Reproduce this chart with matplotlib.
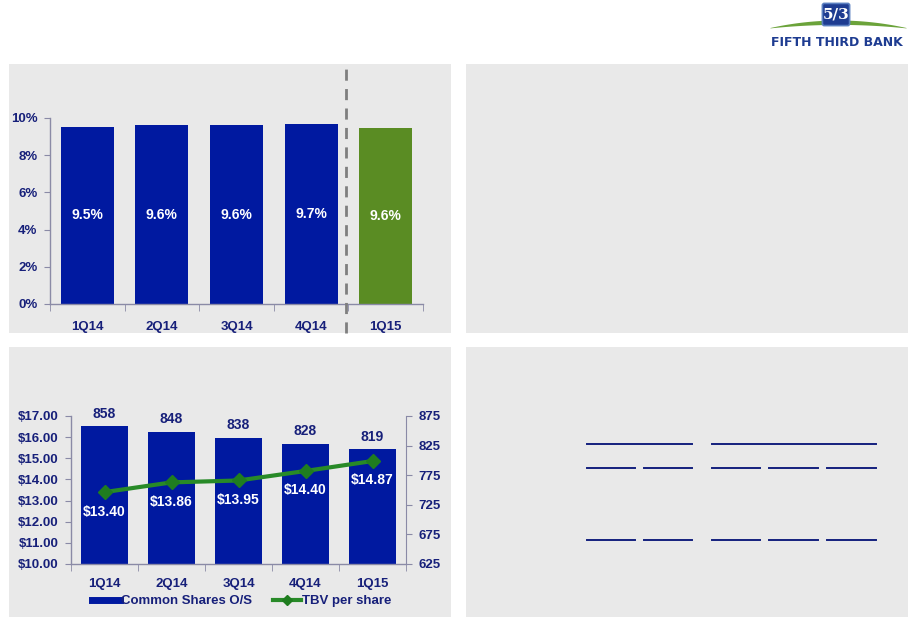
import matplotlib
matplotlib.use("Agg")
import matplotlib.pyplot as plt
from matplotlib.patches import Rectangle, FancyBboxPatch
from matplotlib.lines import Line2D
import numpy as np

plt.rcParams['font.family'] = ['Liberation Sans', 'DejaVu Sans']

# ---------------- data ----------------
top_categories = ["1Q14", "2Q14", "3Q14", "4Q14", "1Q15"]
top_values = [9.52, 9.62, 9.62, 9.68, 9.47]
top_labels = ["9.5%", "9.6%", "9.6%", "9.7%", "9.6%"]
top_yticks = [0, 2, 4, 6, 8, 10]

bot_categories = ["1Q14", "2Q14", "3Q14", "4Q14", "1Q15"]
shares_os = [858, 848, 838, 828, 819]
tbv_per_share = [13.40, 13.86, 13.95, 14.40, 14.87]
left_ticks = [10, 11, 12, 13, 14, 15, 16, 17]
right_ticks = [625, 675, 725, 775, 825, 875]

# ---------------- style ----------------
W, H = 916, 621
NAVY = '#17207A'
BLUE = '#0019A0'
GREEN_BAR = '#5A8C23'
GREEN_LINE = '#288A28'
PANEL = '#E9E9E9'
SPINE = '#8A8AA6'

fig = plt.figure(figsize=(W / 100, H / 100), dpi=100)
fig.patch.set_facecolor('white')


def fx(px):
    return px / W


def fy(py):
    return 1 - py / H


def panel(x0, y0, x1, y1):
    fig.add_artist(Rectangle((fx(x0), fy(y1)), fx(x1) - fx(x0), fy(y0) - fy(y1),
                             transform=fig.transFigure, facecolor=PANEL,
                             edgecolor='none', zorder=0))


panel(9, 64, 451, 333)
panel(466, 64, 908, 333)
panel(9, 347, 451, 617)
panel(466, 347, 908, 617)


def axes_px(x0, ytop, x1, ybot):
    return fig.add_axes([fx(x0), fy(ybot), fx(x1) - fx(x0), fy(ytop) - fy(ybot)])


def style_common(ax):
    ax.set_facecolor('none')
    for s in ['top', 'right']:
        ax.spines[s].set_visible(False)
    for s in ['left', 'bottom']:
        ax.spines[s].set_color(SPINE)
        ax.spines[s].set_linewidth(1.0)


# ---------------- top-left chart ----------------
ax1 = axes_px(50, 118, 423, 304)
style_common(ax1)
xt = np.arange(len(top_categories))
colors = [BLUE] * 4 + [GREEN_BAR]
ax1.bar(xt, top_values, width=0.71, color=colors, zorder=2)
ax1.set_xlim(-0.5, len(top_categories) - 0.5)
ax1.set_ylim(0, 10)
ax1.set_yticks(top_yticks)
ax1.set_yticklabels([f"{v}%" for v in top_yticks])
ax1.set_xticks(xt)
ax1.set_xticklabels(top_categories)
ax1.set_xticks(np.arange(-0.5, len(top_categories)), minor=True)
ax1.tick_params(axis='x', which='major', length=0, pad=12, labelsize=9.5,
                labelcolor=NAVY)
ax1.tick_params(axis='x', which='minor', length=5, color=SPINE, direction='out')
ax1.tick_params(axis='y', length=4, color=SPINE, pad=5, labelsize=9.5,
                labelcolor=NAVY)
for lab in ax1.get_xticklabels() + ax1.get_yticklabels():
    lab.set_fontweight('bold')
for x, v, t in zip(xt, top_values, top_labels):
    ax1.text(x, v / 2, t, ha='center', va='center', color='white',
             fontsize=10, fontweight='bold', zorder=3)
ax1.axvline(3.47, ymin=-0.156, ymax=1.29, color='#7F7F7F', lw=2,
            ls=(0, (4, 3)), clip_on=False, zorder=4)

# ---------------- bottom-left chart ----------------
axL = axes_px(71, 416, 406, 564)
axR = axL.twinx()
style_common(axL)
axR.set_facecolor('none')
for s in ['top', 'left']:
    axR.spines[s].set_visible(False)
axR.spines['bottom'].set_visible(False)
axR.spines['right'].set_color(SPINE)

xb = np.arange(len(bot_categories))
axR.bar(xb, shares_os, width=0.70, color=BLUE, zorder=2)
axR.set_ylim(625, 875)
axR.set_yticks(right_ticks)
axR.tick_params(axis='y', length=4, color=SPINE, pad=5, labelsize=9.5,
                labelcolor=NAVY)
for x, v in zip(xb, shares_os):
    axR.annotate(f"{v}", (x, v), xytext=(0, 9), textcoords='offset points',
                 ha='center', va='center', color=NAVY, fontsize=10,
                 fontweight='bold')

axL.set_zorder(axR.get_zorder() + 1)
axL.patch.set_visible(False)
axL.plot(xb, tbv_per_share, color=GREEN_LINE, lw=3, marker='D',
         markersize=7, markerfacecolor='#1F7D1F', markeredgecolor='#1F7D1F',
         zorder=3)
for x, v in zip(xb, tbv_per_share):
    axL.annotate(f"${v:.2f}", (x, v), xytext=(0, -14), textcoords='offset points',
                 ha='center', va='center', color='white', fontsize=10,
                 fontweight='bold')
axL.set_xlim(-0.5, len(bot_categories) - 0.5)
axL.set_ylim(10, 17)
axL.set_yticks(left_ticks)
axL.set_yticklabels([f"${v:.2f}" for v in left_ticks])
axL.set_xticks(xb)
axL.set_xticklabels(bot_categories)
axL.set_xticks(np.arange(-0.5, len(bot_categories)), minor=True)
axL.tick_params(axis='x', which='major', length=0, pad=10, labelsize=9.5,
                labelcolor=NAVY)
axL.tick_params(axis='x', which='minor', length=5, color=SPINE, direction='out')
axL.tick_params(axis='y', length=4, color=SPINE, pad=5, labelsize=9.5,
                labelcolor=NAVY)
for lab in axL.get_xticklabels() + axL.get_yticklabels() + axR.get_yticklabels():
    lab.set_fontweight('bold')

handles = [Line2D([], [], color=BLUE, lw=5),
           Line2D([], [], color=GREEN_LINE, lw=3, marker='D', markersize=5,
                  markerfacecolor='#1F7D1F', markeredgecolor='#1F7D1F')]
leg = fig.legend(handles, ["Common Shares O/S", "TBV per share"], loc='center',
                 bbox_to_anchor=(fx(242), fy(601)), ncol=2, frameon=False,
                 handlelength=2.1, handletextpad=0.1, columnspacing=1.6,
                 prop={'weight': 'bold', 'size': 9.5})
for t in leg.get_texts():
    t.set_color(NAVY)

# ---------------- bottom-right table rules ----------------
rule_rows = [
    (444, [(587, 692), (712, 876)]),
    (468, [(587, 635), (644, 692), (712, 760), (769, 818), (827, 876)]),
    (540, [(587, 635), (644, 692), (712, 760), (769, 818), (827, 876)]),
]
for y, segs in rule_rows:
    for a, b in segs:
        fig.add_artist(Line2D([fx(a), fx(b)], [fy(y), fy(y)],
                              transform=fig.transFigure, color='#14207E', lw=1.4))

# ---------------- logo ----------------
lg = fig.add_axes([fx(760), fy(55), fx(916) - fx(760), fy(0) - fy(55)])
lg.set_xlim(760, 916)
lg.set_ylim(55, 0)
lg.axis('off')
xs = np.linspace(770, 906, 120)
t = (xs - 838) / 68
upper = 20 + 7.5 * t ** 2
lower = upper + 4.0 * (1 - t ** 2) + 0.4
lg.fill_between(xs, upper, lower, color='#6BA33A', lw=0)
lg.add_patch(FancyBboxPatch((823, 4), 26, 21, boxstyle='round,pad=0.6,rounding_size=2',
                            facecolor='#1E3C91', edgecolor='#5A7FC0', lw=1.2, zorder=3))
lg.text(836, 14.5, "5/3", color='white', fontsize=11, fontweight='bold',
        ha='center', va='center', zorder=4, family='DejaVu Serif')
lg.text(837, 42, "FIFTH THIRD BANK", color='#1E3C91', fontsize=9,
        fontweight='bold', ha='center', va='center', family='DejaVu Sans')

fig.savefig("out.png", dpi=100, facecolor='white')
